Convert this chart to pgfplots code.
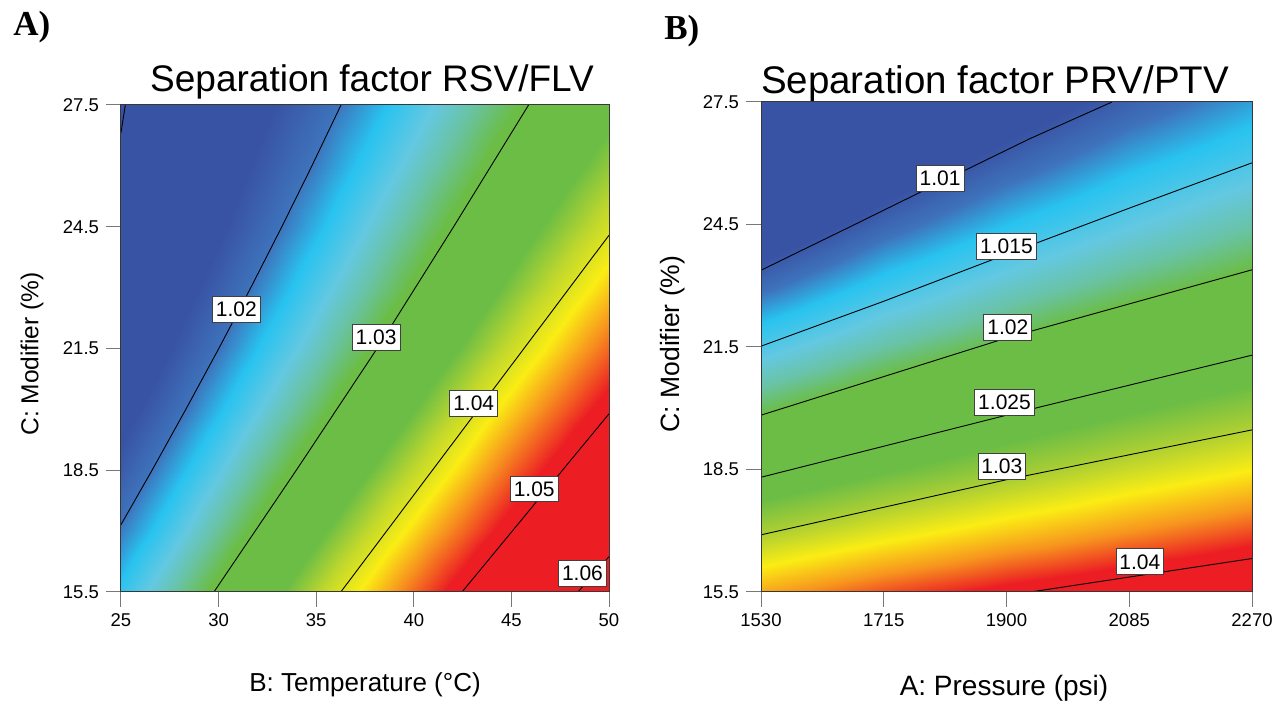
\documentclass[border=0pt]{standalone}
\usepackage{pgfplots}
\pgfplotsset{compat=1.18}
\usepackage{fontspec}
\setmainfont{Liberation Sans}
\newfontfamily\serifbf{Liberation Serif}
\definecolor{tickgray}{RGB}{120,120,120}
\definecolor{framec}{RGB}{55,55,55}

\pgfplotsset{
 cplot/.style={
   scale only axis, anchor=south west, enlargelimits=false, axis on top,
   tick align=outside, major tick length=7.5pt, xtick pos=left, ytick pos=left,
   tick style={tickgray, line width=0.5pt},
   axis line style={framec, line width=0.5pt},
   ticklabel style={font=\fontsize{9.25}{11}\selectfont},
   /pgf/number format/assume math mode=true,
   /pgf/number format/1000 sep={},
   ymin=15.5, ymax=27.5, ytick={15.5,18.5,21.5,24.5,27.5},
   y tick label style={/pgf/number format/fixed, /pgf/number format/precision=1, /pgf/number format/fixed zerofill},
 },
}
\tikzset{
 clab/.style={fill=white, draw=black!75, line width=0.4pt, inner xsep=1.75pt, inner ysep=2.75pt, font=\fontsize{10.5}{12}\selectfont},
 cline/.style={black, line width=0.45pt},
}

\begin{document}
\begin{tikzpicture}
\path[use as bounding box] (0,0) rectangle (638pt,351pt);

% ---------------- Panel A ----------------
\begin{axis}[cplot, at={(60.5pt,55pt)}, width=244pt, height=243.5pt,
  xmin=25, xmax=50, xtick={25,30,35,40,45,50},
  colormap={mapL}{rgb255(0pt)=(57,83,164) rgb255(170pt)=(57,83,164) rgb255(200pt)=(62,115,188)
    rgb255(225pt)=(40,195,240) rgb255(250pt)=(100,200,225) rgb255(270pt)=(105,195,165)
    rgb255(295pt)=(107,189,69) rgb255(355pt)=(107,189,69) rgb255(385pt)=(190,215,45)
    rgb255(415pt)=(250,237,20) rgb255(445pt)=(247,150,30) rgb255(485pt)=(236,30,36)
    rgb255(650pt)=(236,30,36)},
  point meta min=1.000, point meta max=1.065]
\addplot[surf, shader=interp, mesh/cols=11, point meta=explicit] table[meta=z] {
x y z
25 15.5 1.0230
27.5 15.5 1.0267
30 15.5 1.0304
32.5 15.5 1.0342
35 15.5 1.0381
37.5 15.5 1.0420
40 15.5 1.0460
42.5 15.5 1.0501
45 15.5 1.0543
47.5 15.5 1.0585
50 15.5 1.0628
25 17 1.0203
27.5 17 1.0238
30 17 1.0274
32.5 17 1.0309
35 17 1.0347
37.5 17 1.0384
40 17 1.0422
42.5 17 1.0460
45 17 1.0499
47.5 17 1.0540
50 17 1.0581
25 18.5 1.0179
27.5 18.5 1.0213
30 18.5 1.0247
32.5 18.5 1.0281
35 18.5 1.0315
37.5 18.5 1.0351
40 18.5 1.0386
42.5 18.5 1.0423
45 18.5 1.0461
47.5 18.5 1.0498
50 18.5 1.0538
25 20 1.0157
27.5 20 1.0189
30 20 1.0222
32.5 20 1.0254
35 20 1.0286
37.5 20 1.0320
40 20 1.0354
42.5 20 1.0389
45 20 1.0425
47.5 20 1.0461
50 20 1.0498
25 21.5 1.0137
27.5 21.5 1.0169
30 21.5 1.0200
32.5 21.5 1.0231
35 21.5 1.0261
37.5 21.5 1.0292
40 21.5 1.0325
42.5 21.5 1.0358
45 21.5 1.0391
47.5 21.5 1.0426
50 21.5 1.0461
25 23 1.0122
27.5 23 1.0152
30 23 1.0181
32.5 23 1.0210
35 23 1.0240
37.5 23 1.0269
40 23 1.0299
42.5 23 1.0330
45 23 1.0362
47.5 23 1.0394
50 23 1.0427
25 24.5 1.0111
27.5 24.5 1.0138
30 24.5 1.0165
32.5 24.5 1.0192
35 24.5 1.0220
37.5 24.5 1.0249
40 24.5 1.0277
42.5 24.5 1.0306
45 24.5 1.0336
47.5 24.5 1.0366
50 24.5 1.0396
25 26 1.0103
27.5 26 1.0128
30 26 1.0153
32.5 26 1.0178
35 26 1.0203
37.5 26 1.0230
40 26 1.0257
42.5 26 1.0284
45 26 1.0312
47.5 26 1.0341
50 26 1.0369
25 27.5 1.0098
27.5 27.5 1.0121
30 27.5 1.0143
32.5 27.5 1.0166
35 27.5 1.0189
37.5 27.5 1.0213
40 27.5 1.0239
42.5 27.5 1.0265
45 27.5 1.0291
47.5 27.5 1.0318
50 27.5 1.0345
};
\addplot[cline] coordinates {(25,26.82) (25.22,27.5)};
\addplot[cline] coordinates {(25,17.16) (26.59,18.5) (28.32,20) (30.01,21.5) (31.65,23) (33.24,24.5) (34.78,26) (36.27,27.5)};
\addplot[cline] coordinates {(29.76,15.5) (33.98,18.5) (38.12,21.5) (42.04,24.5) (45.88,27.5)};
\addplot[cline] coordinates {(36.26,15.5) (45.91,21.67) (50,24.29)};
\addplot[cline] coordinates {(42.47,15.5) (50,19.89)};
\addplot[cline] coordinates {(48.41,15.5) (50,16.37)};
\node[clab] at (axis cs:30.91,22.47) {1.02};
\node[clab] at (axis cs:38.07,21.77) {1.03};
\node[clab] at (axis cs:43.07,20.15) {1.04};
\node[clab] at (axis cs:46.17,18.04) {1.05};
\node[clab] at (axis cs:48.64,15.96) {1.06};
\end{axis}

% ---------------- Panel B ----------------
\begin{axis}[cplot, at={(380.5pt,55pt)}, width=245.5pt, height=245pt,
  xmin=1530, xmax=2270, xtick={1530,1715,1900,2085,2270},
  colormap={mapR}{rgb255(0pt)=(57,83,164) rgb255(95pt)=(57,83,164) rgb255(115pt)=(62,115,188)
    rgb255(135pt)=(40,195,240) rgb255(160pt)=(100,200,225) rgb255(180pt)=(105,195,165)
    rgb255(200pt)=(107,189,69) rgb255(270pt)=(107,189,69) rgb255(300pt)=(175,208,50)
    rgb255(330pt)=(250,237,20) rgb255(360pt)=(247,150,30) rgb255(390pt)=(236,30,36)
    rgb255(450pt)=(236,30,36)},
  point meta min=1.000, point meta max=1.045]
\addplot[surf, shader=interp, mesh/cols=5, point meta=explicit] table[meta=z] {
x y z
1530 15.5 1.0354
1715 15.5 1.0378
1900 15.5 1.0397
2085 15.5 1.0413
2270 15.5 1.0428
1530 17 1.0296
1715 17 1.0320
1900 17 1.0341
2085 17 1.0360
2270 17 1.0378
1530 18.5 1.0244
1715 18.5 1.0268
1900 18.5 1.0290
2085 18.5 1.0311
2270 18.5 1.0330
1530 20 1.0195
1715 20 1.0222
1900 20 1.0245
2085 20 1.0266
2270 20 1.0286
1530 21.5 1.0151
1715 21.5 1.0180
1900 21.5 1.0203
2085 21.5 1.0226
2270 21.5 1.0245
1530 23 1.0110
1715 23 1.0142
1900 23 1.0168
2085 23 1.0190
2270 23 1.0209
1530 24.5 1.0073
1715 24.5 1.0107
1900 24.5 1.0135
2085 24.5 1.0158
2270 24.5 1.0179
1530 26 1.0037
1715 26 1.0076
1900 26 1.0105
2085 26 1.0130
2270 26 1.0150
1530 27.5 1.0004
1715 27.5 1.0046
1900 27.5 1.0078
2085 27.5 1.0104
2270 27.5 1.0126
};
\addplot[cline] coordinates {(1530,23.38) (1665,24.45) (1800,25.53) (1935,26.6) (2059,27.5)};
\addplot[cline] coordinates {(1530,21.52) (1715,22.62) (1900,23.77) (2085,24.9) (2270,26.01)};
\addplot[cline] coordinates {(1530,19.83) (1900,21.72) (2270,23.39)};
\addplot[cline] coordinates {(1530,18.31) (1900,19.83) (2270,21.30)};
\addplot[cline] coordinates {(1530,16.90) (1900,18.25) (2270,19.47)};
\addplot[cline] coordinates {(1936,15.5) (2270,16.32)};
\node[clab] at (axis cs:1800,25.63) {1.01};
\node[clab] at (axis cs:1900,23.96) {1.015};
\node[clab] at (axis cs:1902,21.98) {1.02};
\node[clab] at (axis cs:1897,20.14) {1.025};
\node[clab] at (axis cs:1893,18.57) {1.03};
\node[clab] at (axis cs:2101,16.24) {1.04};
\end{axis}

% ---------------- texts ----------------
\node[anchor=base west, inner sep=0, font=\serifbf\bfseries\fontsize{17.5}{20}\selectfont] at (6.5pt,333pt) {A)};
\node[anchor=base west, inner sep=0, font=\serifbf\bfseries\fontsize{17.5}{20}\selectfont] at (332pt,331pt) {B)};
\node[anchor=base, inner sep=0, font=\fontsize{18.5}{20}\selectfont] at (186pt,305.15pt) {Separation factor RSV/FLV};
\node[anchor=base, inner sep=0, font=\fontsize{19.25}{21}\selectfont] at (497.5pt,304pt) {Separation factor PRV/PTV};
\node[anchor=base, inner sep=0, font=\fontsize{13}{15}\selectfont] at (182.5pt,5pt) {B: Temperature (°C)};
\node[anchor=base, inner sep=0, font=\fontsize{14}{16}\selectfont] at (502pt,3pt) {A: Pressure (psi)};
\node[rotate=90, anchor=center, inner sep=0, font=\fontsize{12.25}{14}\selectfont] at (16pt,174pt) {C: Modifier (\%)};
\node[rotate=90, anchor=center, inner sep=0, font=\fontsize{13.25}{15}\selectfont] at (336.5pt,179pt) {C: Modifier (\%)};
\end{tikzpicture}
\end{document}
